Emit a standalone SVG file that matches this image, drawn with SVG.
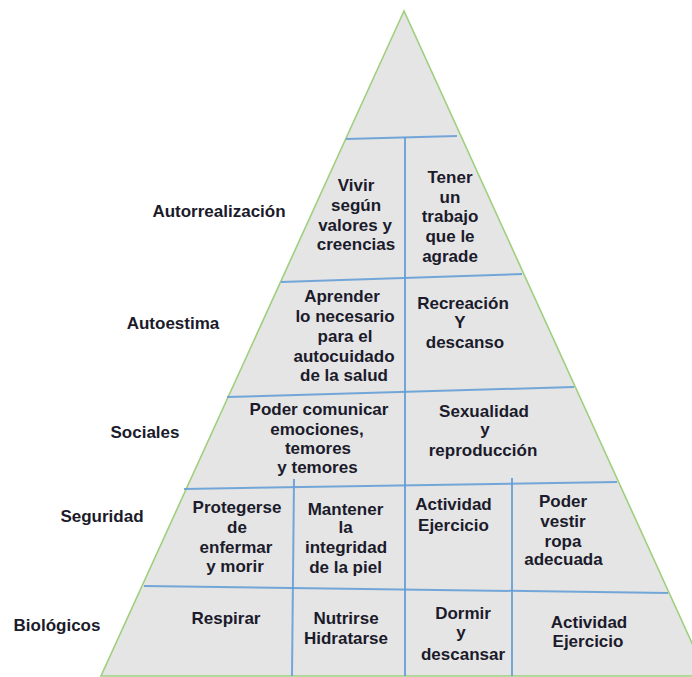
<svg xmlns="http://www.w3.org/2000/svg" width="692" height="677" viewBox="0 0 692 677">
<defs>
<style>
.tri{fill:#e5e5e5;stroke:#9fcf7f;stroke-width:1.6}
.ln{stroke:#5f9bd6;stroke-width:2;stroke-opacity:0.85;fill:none}
text{font-family:"Liberation Sans",Arial,sans-serif;font-weight:bold;font-size:17px;fill:#1b1b2b;text-anchor:middle}
.lab{text-anchor:middle}
</style>
</defs>
<rect width="692" height="677" fill="#ffffff"/>
<g id="pyramid">
<polygon class="tri" points="404,11 101,676 707,676"/>
</g>
<g id="connectors">
<line class="ln" x1="346" y1="139" x2="457" y2="136"/>
<line class="ln" x1="281" y1="282" x2="522" y2="274"/>
<line class="ln" x1="227" y1="397" x2="574" y2="387"/>
<line class="ln" x1="184" y1="489" x2="617" y2="482"/>
<line class="ln" x1="144" y1="586" x2="668" y2="593"/>
<line class="ln" x1="405" y1="137" x2="405" y2="676"/>
<line class="ln" x1="294" y1="479" x2="292" y2="676"/>
<line class="ln" x1="512" y1="478" x2="512" y2="676"/>
</g>
<g id="labels">
<text id="lbl-autorrealizacion" x="219" y="217">Autorrealización</text>
<text id="lbl-autoestima" x="173" y="329">Autoestima</text>
<text id="lbl-sociales" x="145" y="438">Sociales</text>
<text id="lbl-seguridad" x="102" y="522">Seguridad</text>
<text id="lbl-biologicos" x="57" y="631">Biológicos</text>
</g>
<g id="cell-vivir">
<text x="356" y="191">Vivir</text>
<text x="356" y="211">según</text>
<text x="355" y="230.5">valores y</text>
<text x="356" y="250">creencias</text>
</g>
<g id="cell-tener">
<text x="450" y="183">Tener</text>
<text x="450" y="203">un</text>
<text x="450" y="222">trabajo</text>
<text x="450" y="242">que le</text>
<text x="450" y="262">agrade</text>
</g>
<g id="cell-aprender">
<text x="342" y="302">Aprender</text>
<text x="345" y="322">lo necesario</text>
<text x="345" y="342">para el</text>
<text x="344" y="362">autocuidado</text>
<text x="344" y="381">de la salud</text>
</g>
<g id="cell-recreacion">
<text x="463" y="309">Recreación</text>
<text x="460" y="328">Y</text>
<text x="465" y="348">descanso</text>
</g>
<g id="cell-comunicar">
<text x="319" y="415">Poder comunicar</text>
<text x="317" y="435">emociones,</text>
<text x="318" y="454">temores</text>
<text x="317.5" y="473">y temores</text>
</g>
<g id="cell-sexualidad">
<text x="484" y="417">Sexualidad</text>
<text x="485" y="435">y</text>
<text x="483" y="456">reproducción</text>
</g>
<g id="cell-protegerse">
<text x="237" y="513">Protegerse</text>
<text x="237" y="533">de</text>
<text x="236" y="553">enfermar</text>
<text x="235" y="572">y morir</text>
</g>
<g id="cell-mantener">
<text x="345.5" y="515">Mantener</text>
<text x="345.5" y="533">la</text>
<text x="346" y="553">integridad</text>
<text x="345.5" y="573">de la piel</text>
</g>
<g id="cell-actividad-seg">
<text x="453.5" y="510">Actividad</text>
<text x="453.5" y="531">Ejercicio</text>
</g>
<g id="cell-vestir">
<text x="563" y="507">Poder</text>
<text x="563" y="527">vestir</text>
<text x="563" y="547">ropa</text>
<text x="563.5" y="565">adecuada</text>
</g>
<g id="cell-respirar">
<text x="226" y="624">Respirar</text>
</g>
<g id="cell-nutrirse">
<text x="346" y="624">Nutrirse</text>
<text x="346" y="644">Hidratarse</text>
</g>
<g id="cell-dormir">
<text x="463" y="619">Dormir</text>
<text x="461" y="638">y</text>
<text x="463" y="660">descansar</text>
</g>
<g id="cell-actividad-bio">
<text x="589" y="628">Actividad</text>
<text x="588" y="647">Ejercicio</text>
</g>
</svg>
